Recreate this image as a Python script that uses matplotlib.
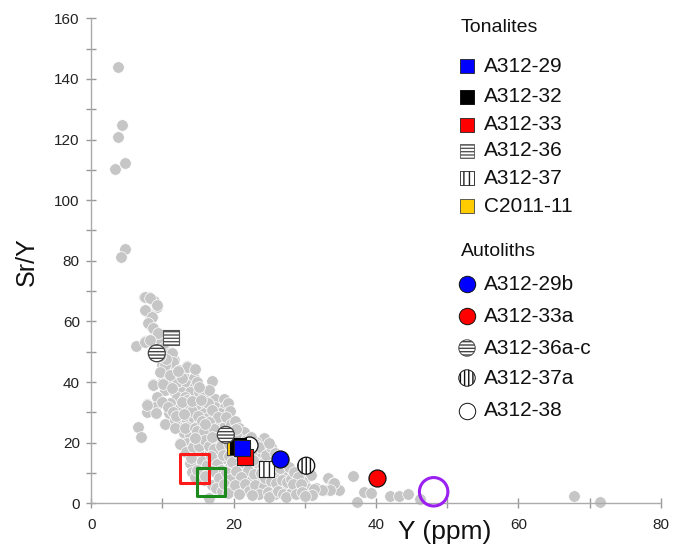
import matplotlib
matplotlib.use("Agg")
import matplotlib.pyplot as plt

plt.rcParams["font.family"] = ["Liberation Sans", "DejaVu Sans"]
plt.rcParams["hatch.linewidth"] = 1.0

# grey background compilation: Y (ppm), Sr/Y
bg_y = [
    3.8, 4.3, 3.7, 3.4, 4.7, 4.8, 4.2,
    7.4, 8.1, 8.8, 9.2, 7.7, 8.3, 8.2, 8.5, 9.0, 7.6, 8.4, 9.6, 6.3, 10.1,
    11.1, 11.6, 9.9, 10.7, 11.8, 13.4, 14.6, 12.5, 11.3, 10.1, 13.2, 14.4,
    8.7, 9.9, 11.1, 12.0, 13.4, 14.6, 16.9, 10.4, 11.6, 12.7, 13.9, 15.1,
    15.9, 9.2, 12.0, 13.2, 13.4, 17.4, 18.6, 11.1, 7.8, 9.0, 12.5, 13.9,
    15.1, 16.2, 17.4, 18.8, 7.8, 9.1, 10.9, 15.8, 16.9, 18.1, 12.0, 13.2,
    14.4, 16.2, 18.6, 10.4, 6.6, 12.3, 13.4, 14.8, 16.2, 17.4, 18.6, 7.0,
    13.0, 13.9, 15.1, 16.2, 17.4, 12.5, 13.4, 14.6, 15.5, 16.7, 17.9, 19.8,
    20.5, 24.2, 23.1, 13.9, 15.1, 16.7, 17.9, 19.1, 23.3, 24.5, 17.7, 18.8,
    20.0, 22.3, 23.5, 25.4, 14.8, 19.5, 20.9, 21.9, 23.1, 27.0, 27.8, 26.8,
    28.9, 14.4, 15.5, 16.9, 16.5, 19.8, 19.8, 20.9, 22.1, 23.3, 21.4, 22.6,
    23.8, 24.7, 25.6, 24.0, 25.4, 26.6, 27.5, 28.7, 29.9, 30.8, 30.3, 31.5,
    33.2, 33.9, 32.7, 34.8, 36.8, 37.3, 38.3, 39.3, 42.0, 43.2, 44.5, 46.2,
    67.8, 71.5,
    34.1, 33.6, 32.4, 31.3, 29.6, 31.0, 29.2,
    7.8, 11.8, 11.8, 13.2, 14.6, 12.5, 13.3, 13.9, 14.1, 14.6, 15.8, 14.8,
    15.8, 8.7, 10.1, 11.3,
    7.6, 8.3, 9.2, 7.6, 8.5, 8.0, 8.7, 9.4, 7.6, 8.3, 11.3, 11.5, 10.4, 9.7,
    11.1, 12.3, 13.4, 14.6, 12.7,
    14.2, 15.0, 15.6, 14.8, 15.8, 14.3, 15.2, 16.0, 14.0, 15.6, 16.2, 14.9,
    16.4, 17.0, 17.8, 16.6, 17.2, 18.0, 16.5, 17.3, 18.2, 16.8, 17.6, 18.2,
    17.0, 18.0, 16.0, 17.5, 18.4,
    19.2, 19.5, 18.9, 19.6, 19.0, 19.4, 18.5, 19.3, 19.8, 18.9, 19.5, 18.7,
    19.9, 19.2,
    20.2, 20.8, 21.5, 20.3, 21.8, 20.6, 21.2, 22.0, 20.4, 21.0, 20.2, 21.6,
    22.2, 20.8,
    22.4, 23.0, 23.6, 22.5, 23.2, 24.0, 22.8, 23.8, 23.0, 24.2, 23.5, 22.6,
    24.5, 25.2, 25.8, 24.8, 25.5, 26.0, 24.4, 25.2, 26.0, 24.8, 25.8, 25.0,
    26.5, 27.2, 27.8, 26.8, 27.5, 28.0, 26.3, 27.0, 28.0, 27.3,
    28.5, 29.0, 28.4, 29.4, 28.8, 29.6, 30.0,
    10.0, 10.8, 11.5, 12.8, 14.2, 15.4, 16.5, 14.8, 12.2, 10.5, 9.6, 15.2,
    16.0, 14.6, 17.0, 20.3, 21.4, 22.7, 19.0, 25.0, 26.2, 11.9, 13.0,
]
bg_sr_y = [
    143.9, 124.9, 120.9, 110.2, 112.2, 83.8, 81.1,
    67.9, 68.0, 66.9, 64.7, 63.6, 62.1, 59.4, 58.0, 56.3, 53.6, 53.9, 54.1, 51.9, 51.1,
    49.5, 47.3, 45.6, 45.1, 44.8, 45.3, 44.2, 42.3, 42.3, 42.3, 41.2, 41.2,
    39.4, 39.6, 39.8, 39.6, 39.0, 38.7, 40.5, 37.4, 37.2, 36.8, 36.8, 36.8,
    35.7, 35.2, 35.2, 35.2, 34.1, 34.3, 34.3, 33.0, 32.8, 31.7, 31.4, 31.4,
    31.9, 32.1, 31.9, 31.9, 30.1, 29.9, 29.9, 29.9, 29.5, 29.7, 27.7, 27.7,
    27.7, 28.0, 27.5, 26.1, 25.3, 25.3, 25.3, 25.6, 25.6, 26.4, 25.3, 22.0,
    23.1, 22.5, 22.9, 22.5, 23.1, 20.0, 19.8, 20.3, 20.0, 20.3, 20.0, 21.4,
    20.3, 21.4, 20.3, 17.6, 16.7, 17.0, 17.0, 17.6, 17.6, 17.6, 14.3, 14.8,
    14.3, 14.8, 15.4, 14.8, 13.2, 12.1, 12.6, 12.1, 11.5, 11.5, 9.9, 9.3,
    9.3, 9.9, 8.8, 6.0, 1.6, 9.9, 7.1, 7.7, 8.8, 8.8, 5.0, 5.5,
    7.1, 8.2, 9.3, 4.4, 5.5, 6.6, 5.0, 5.0, 7.7, 9.3, 5.0, 5.0,
    8.2, 6.6, 4.4, 4.4, 9.0, 0.5, 3.8, 3.3, 2.4, 2.4, 3.0, 1.3,
    2.5, 0.5,
    6.8, 4.4, 4.4, 4.6, 7.4, 2.7, 5.0,
    32.4, 27.5, 24.8, 24.8, 24.8, 19.6, 17.0, 13.2, 10.4, 8.8, 7.7, 19.2,
    19.8, 39.0, 39.4, 38.0,
    68.2, 67.7, 65.4, 63.8, 61.6, 59.4, 57.8, 56.3, 53.3, 53.9, 49.5, 46.7, 45.6, 43.4,
    42.3, 44.0, 45.1, 44.2, 41.3,
    30.5, 28.8, 27.0, 24.0, 23.8, 18.5, 19.0, 21.0, 15.0, 14.0, 12.5, 11.0,
    33.0, 30.8, 28.6, 26.8, 24.6, 22.0, 19.0, 18.0, 18.8, 15.5, 13.0, 11.0,
    10.5, 8.5, 9.0, 5.0, 4.0,
    33.2, 30.5, 28.5, 26.0, 24.0, 19.5, 16.0, 15.5, 13.5, 10.3, 8.0, 6.5,
    5.2, 3.5,
    27.0, 25.0, 23.5, 22.5, 21.0, 16.5, 13.5, 11.0, 10.5, 8.8, 6.0, 6.5,
    4.0, 3.2,
    22.0, 19.5, 18.5, 16.5, 13.5, 13.0, 9.8, 10.0, 6.0, 5.8, 3.2, 2.6,
    16.0, 18.5, 16.5, 12.3, 11.0, 12.8, 8.5, 7.5, 6.8, 3.8, 3.2, 2.0,
    11.5, 13.2, 12.0, 7.8, 7.0, 8.0, 4.0, 3.0, 3.5, 2.0,
    10.2, 8.8, 6.5, 6.5, 3.2, 3.8, 2.5,
    33.5, 31.8, 30.2, 33.4, 33.6, 34.2, 37.5, 40.0, 43.8, 47.5, 48.5, 38.5,
    26.0, 21.5, 21.8, 24.5, 19.8, 14.2, 22.5, 20.0, 15.5, 28.8, 29.5,
]

# highlighted samples
ton_names = ["A312-29", "A312-32", "A312-33", "A312-36", "A312-37", "C2011-11"]
ton_y = [21.2, 20.6, 21.6, 11.2, 24.6, 20.2]
ton_sr_y = [18.2, 18.8, 15.4, 54.8, 11.3, 18.6]

aut_names = ["A312-29b", "A312-33a", "A312-36a-c", "A312-37a", "A312-38"]
aut_y = [[26.5], [40.2], [9.2, 18.9], [30.2], [22.1]]
aut_sr_y = [[14.6], [8.2], [49.5, 22.6], [12.4], [19.2]]

ref_sq_y = [14.5, 16.8]
ref_sq_sr_y = [11.4, 7.1]
ref_circ_y = [48.1]
ref_circ_sr_y = [3.8]

# styles
ton_style = [
    dict(fc="#0000ff", ec="#222222", hatch=None),
    dict(fc="#000000", ec="#000000", hatch=None),
    dict(fc="#ff0000", ec="#222222", hatch=None),
    dict(fc="white", ec="#555555", hatch="-----"),
    dict(fc="white", ec="#222222", hatch="|||"),
    dict(fc="#ffcc00", ec="#444444", hatch=None),
]
aut_style = [
    dict(fc="#0000ff", ec="#111111", hatch=None),
    dict(fc="#ff0000", ec="#111111", hatch=None),
    dict(fc="white", ec="#444444", hatch="-----"),
    dict(fc="white", ec="#111111", hatch="||||"),
    dict(fc="white", ec="#111111", hatch=None),
]
ton_z = [8, 6, 7, 6, 6, 5]
aut_z = [6, 6, 6, 6, 4]

fig = plt.figure(figsize=(6.83, 5.47), dpi=100)
W, H = 683, 547
ax = fig.add_axes([91.3 / W, (H - 503.3) / H, (660.7 - 91.3) / W, (503.3 - 18.3) / H])

ax.scatter(bg_y, bg_sr_y, s=70, c="#c6c6c6", edgecolors="white", linewidths=0.5, zorder=2, clip_on=False)

for i in range(len(ton_names)):
    st = ton_style[i]
    ax.scatter([ton_y[i]], [ton_sr_y[i]], marker="s", s=120, facecolors=st["fc"],
               edgecolors=st["ec"], linewidths=0.8, hatch=st["hatch"], zorder=ton_z[i])
for i in range(len(aut_names)):
    st = aut_style[i]
    ax.scatter(aut_y[i], aut_sr_y[i], marker="o", s=150, facecolors=st["fc"],
               edgecolors=st["ec"], linewidths=0.9, hatch=st["hatch"], zorder=aut_z[i])

ax.scatter(ref_sq_y[:1], ref_sq_sr_y[:1], marker="s", s=430, facecolors="none",
           edgecolors="#ff1a1a", linewidths=2.2, zorder=9)
ax.scatter(ref_sq_y[1:], ref_sq_sr_y[1:], marker="s", s=400, facecolors="none",
           edgecolors="#1c8a1c", linewidths=2.2, zorder=9)
ax.scatter(ref_circ_y, ref_circ_sr_y, marker="o", s=420, facecolors="none",
           edgecolors="#9b1ff0", linewidths=2.2, zorder=9, clip_on=False)

ax.set_xlim(0, 80)
ax.set_ylim(0, 160)
ax.set_xticks([0, 20, 40, 60, 80])
ax.set_xticks([10, 30, 50, 70], minor=True)
ax.set_yticks(range(0, 161, 20))
ax.set_yticks(range(10, 160, 20), minor=True)
for side in ["top", "right"]:
    ax.spines[side].set_visible(False)
for side in ["left", "bottom"]:
    ax.spines[side].set_color("#aaaaaa")
    ax.spines[side].set_linewidth(1.0)
ax.tick_params(which="both", direction="inout", length=6.5, width=1.0, color="#999999",
               labelsize=11, labelcolor="#222222")
ax.tick_params(axis="x", pad=7)
ax.tick_params(axis="y", pad=5)
ax.set_facecolor("none")

fig.text(445 / W, 8 / H, "Y (ppm)", fontsize=19, ha="center", va="baseline", color="#111111")
fig.text(27 / W, 1 - 262 / H, "Sr/Y", fontsize=18, rotation=90, ha="center", va="center", color="#111111")

# legend, drawn in pixel coordinates
lax = fig.add_axes([0, 0, 1, 1])
lax.set_xlim(0, W)
lax.set_ylim(H, 0)
lax.axis("off")
lax.text(461, 28, "Tonalites", fontsize=14, va="center", ha="left", color="#111111")
ton_rows = [66, 97, 125, 151, 178, 206]
for i, name in enumerate(ton_names):
    st = ton_style[i]
    lax.scatter([467], [ton_rows[i]], marker="s", s=110, facecolors=st["fc"],
                edgecolors=st["ec"], linewidths=0.6, hatch=st["hatch"])
    lax.text(484, ton_rows[i], name, fontsize=15, va="center", ha="left", color="#111111")
lax.text(461, 252, "Autoliths", fontsize=14, va="center", ha="left", color="#111111")
aut_rows = [284, 316, 348, 378, 411]
for i, name in enumerate(aut_names):
    st = aut_style[i]
    lax.scatter([467], [aut_rows[i]], marker="o", s=140, facecolors=st["fc"],
                edgecolors=st["ec"], linewidths=0.7, hatch=st["hatch"])
    lax.text(484, aut_rows[i], name, fontsize=15, va="center", ha="left", color="#111111")

fig.savefig("out.png", dpi=100)
